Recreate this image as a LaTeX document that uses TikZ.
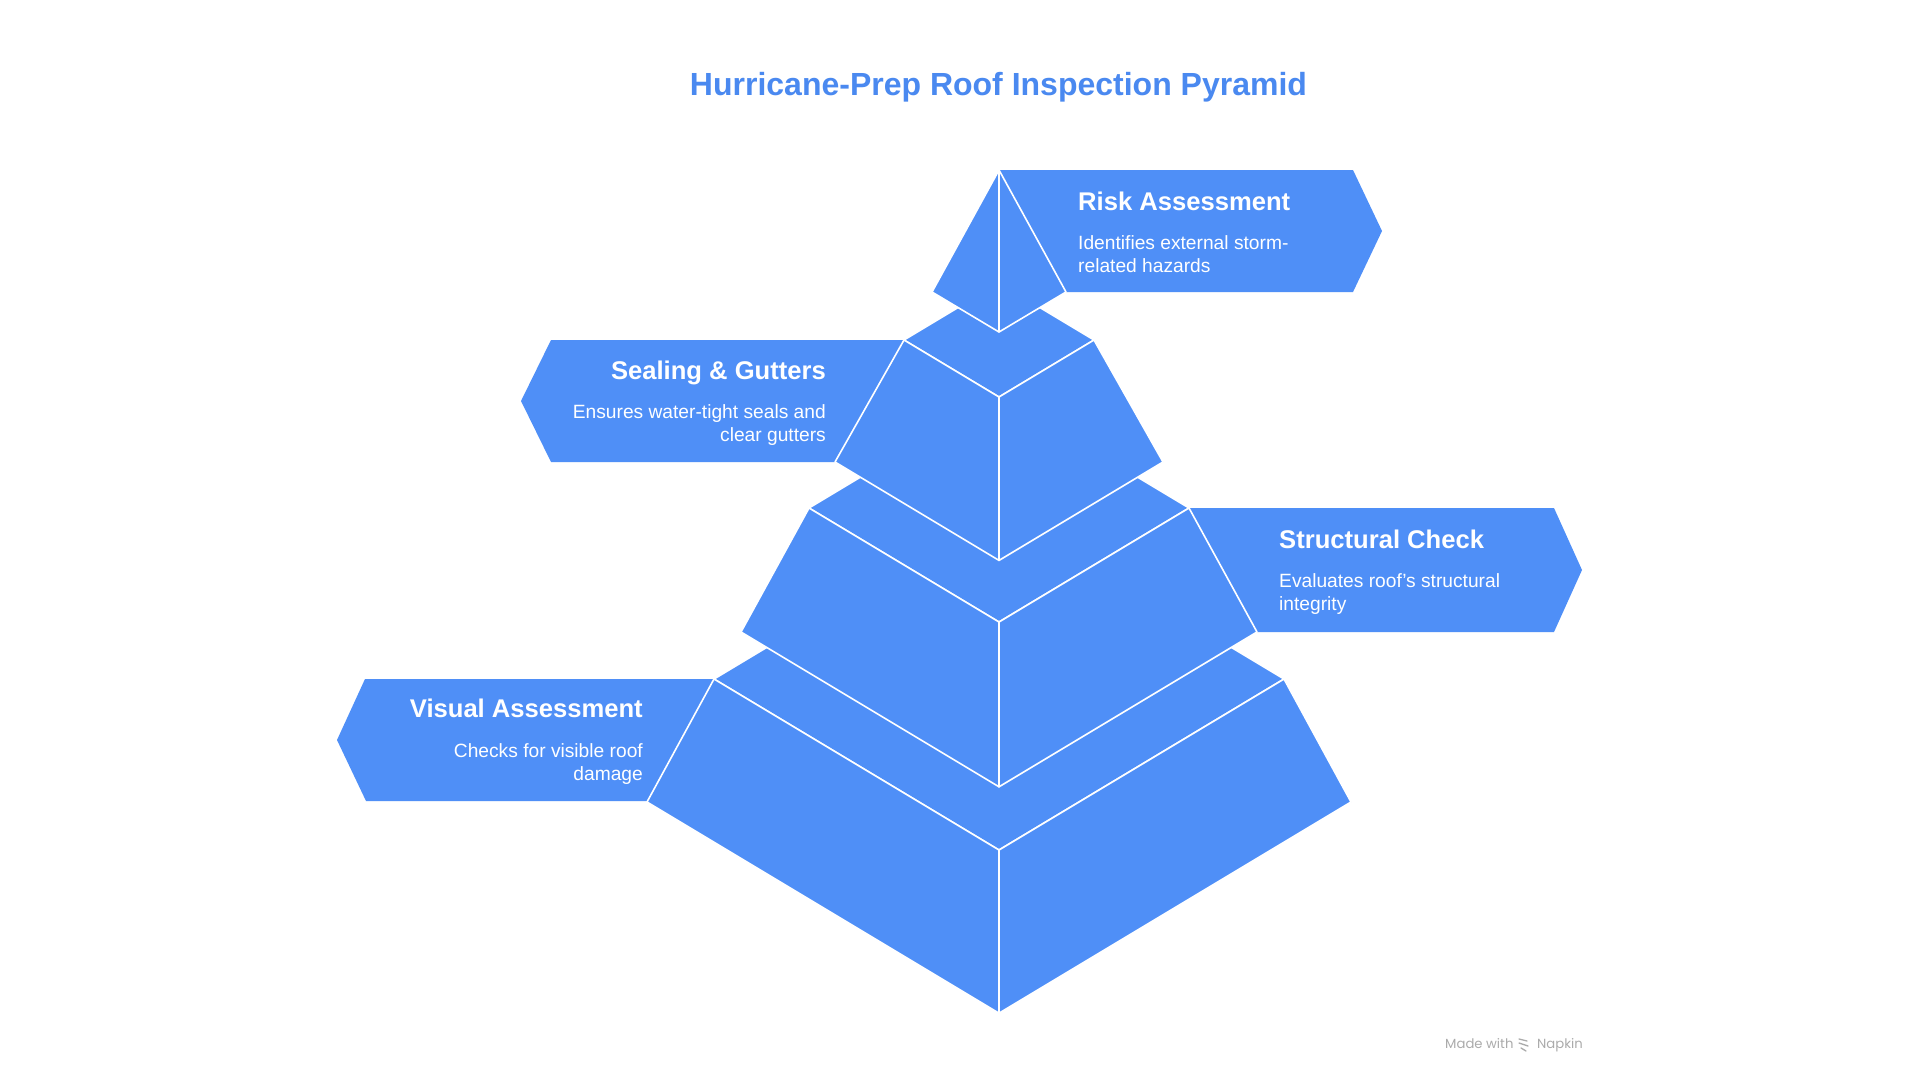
\documentclass[tikz,border=0pt]{standalone}
\usepackage{fontspec}
\setmainfont{Liberation Sans}
\newfontfamily\wmfont{Poppins}
\definecolor{pyr}{HTML}{4F8FF7}
\definecolor{ttl}{HTML}{4A89F0}
\definecolor{wm}{HTML}{ABABAB}
\newcommand\tierdraw[4]{%
  \pgfmathsetmacro\ft{#1+0.6*#2}%
  \pgfmathsetmacro\fb{#3+0.6*#4}%
  \pgfmathsetmacro\bk{#1-0.6*#2}%
  \draw[face] (999-#2,#1) -- (999,\ft) -- (999+#2,#1) -- (999,\bk) -- cycle;
  \draw[face] (999-#2,#1) -- (999,\ft) -- (999,\fb) -- (999-#4,#3) -- cycle;
  \draw[face] (999+#2,#1) -- (999,\ft) -- (999,\fb) -- (999+#4,#3) -- cycle;
}
\begin{document}
\begin{tikzpicture}[x=1pt,y=-1pt,
  face/.style={fill=pyr, draw=white, line width=1.6pt, line join=round},
  lbox/.style={fill=pyr},
  hd/.style={text=white, font=\bfseries\fontsize{25.6}{30}\selectfont, inner sep=0pt},
  ds/.style={text=white, font=\fontsize{19.2}{23}\selectfont, inner sep=0pt},
  wmk/.style={text=wm, font=\wmfont\fontsize{13.2}{15}\selectfont, inner sep=0pt}]
\fill[white] (0,0) rectangle (1920,1080);
\useasboundingbox (0,0) rectangle (1920,1080);

% title
\node[anchor=base, inner sep=0pt, text=ttl, font=\bfseries\fontsize{32}{38}\selectfont] (title) at (998.5,95) {Hurricane-Prep Roof Inspection Pyramid};

% label boxes
\fill[lbox] (999,170) -- (1353,170) -- (1382,231) -- (1353,292) -- (1066,292) -- cycle;
\fill[lbox] (904,340) -- (551,340) -- (521,401) -- (551,462) -- (835,462) -- cycle;
\fill[lbox] (1189,508) -- (1554,508) -- (1582,570) -- (1554,632) -- (1257,632) -- cycle;
\fill[lbox] (714,679) -- (365,679) -- (337,740) -- (366,801) -- (647,801) -- cycle;

% pyramid tiers, bottom first
\tierdraw{679}{285}{802}{352}
\tierdraw{508}{190}{632}{258}
\tierdraw{340}{95}{462}{164}
\draw[face] (999,170) -- (932,292) -- (999,332) -- cycle;
\draw[face] (999,170) -- (999,332) -- (1066,292) -- cycle;

% texts
\node[hd, anchor=base west] (riskh) at (1078,210) {Risk Assessment};
\node[ds, anchor=base west] (riskd1) at (1078,249) {Identifies external storm-};
\node[ds, anchor=base west] (riskd2) at (1078,272) {related hazards};

\node[hd, anchor=base east] (sealh) at (826,379) {Sealing \& Gutters};
\node[ds, anchor=base east] (seald1) at (826,418) {Ensures water-tight seals and};
\node[ds, anchor=base east] (seald2) at (826,441) {clear gutters};

\node[hd, anchor=base west] (structh) at (1279,548) {Structural Check};
\node[ds, anchor=base west] (structd1) at (1279,587) {Evaluates roof’s structural};
\node[ds, anchor=base west] (structd2) at (1279,610) {integrity};

\node[hd, anchor=base east] (vish) at (643,717) {Visual Assessment};
\node[ds, anchor=base east] (visd1) at (643,757) {Checks for visible roof};
\node[ds, anchor=base east] (visd2) at (643,780) {damage};

% watermark
\node[wmk, anchor=base west] (made) at (1445,1048) {Made with};
\node[wmk, anchor=base west] (napkin) at (1537,1048) {Napkin};
\draw[wm, line width=1.3pt, line cap=round] (1519,1039) -- (1527,1041);
\draw[wm, line width=1.3pt, line cap=round] (1519,1043) -- (1528,1046);
\draw[wm, line width=1.3pt, line cap=round] (1521,1048) -- (1526,1051);
\end{tikzpicture}
\end{document}
